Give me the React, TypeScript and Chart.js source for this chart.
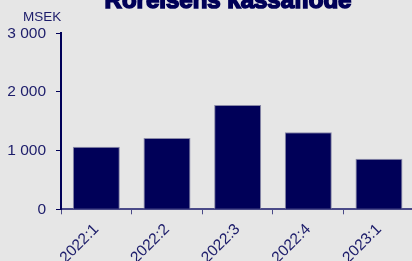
import React, { useEffect, useRef } from "react";
import { Chart, registerables } from "chart.js";

Chart.register(...registerables);

const categories = ["2022:1", "2022:2", "2022:3", "2022:4", "2023:1"];
const cashFlow = [1065, 1215, 1778, 1312, 862];
const yTicks = [0, 1000, 2000, 3000];
const titleText = "Rörelsens kassaflöde";
const unitText = "MSEK";

const NAVY = "#000058";
const TEXT = "#1c1c6a";
const BG = "#e6e6e6";

const fmt = (v: number) =>
  String(v).replace(/\B(?=(\d{3})+(?!\d))/g, " ");

export default function App() {
  const ref = useRef<HTMLCanvasElement | null>(null);
  useEffect(() => {
    if (!ref.current) return;
    const overlay = {
      id: "overlay",
      afterDraw(chart: any) {
        const ctx = chart.ctx;
        ctx.save();
        ctx.fillStyle = NAVY;
        ctx.font = 'bold 24px "Liberation Sans", Arial, sans-serif';
        ctx.textAlign = "center";
        ctx.textBaseline = "alphabetic";
        ctx.strokeStyle = NAVY;
        ctx.lineWidth = 1.6;
        ctx.strokeText(titleText, 228, 8);
        ctx.fillText(titleText, 228, 8);
        ctx.fillStyle = TEXT;
        ctx.font = '13.5px "Liberation Sans", Arial, sans-serif';
        ctx.textAlign = "left";
        ctx.textBaseline = "middle";
        ctx.fillText(unitText, 23, 17);
        ctx.restore();
      },
    };
    const chart = new Chart(ref.current, {
      type: "bar",
      data: {
        labels: categories,
        datasets: [
          {
            data: cashFlow,
            backgroundColor: NAVY,
            borderColor: "#8a8aa8",
            borderWidth: 1,
            barPercentage: 0.665,
            categoryPercentage: 1,
          },
        ],
      },
      options: {
        animation: false,
        responsive: false,
        devicePixelRatio: 1,
        layout: { padding: { top: 33.3, right: 15.7, left: 0, bottom: 0 } },
        plugins: {
          legend: { display: false },
          tooltip: { enabled: false },
          title: { display: false },
        },
        scales: {
          x: {
            offset: true,
            grid: {
              offset: true,
              drawOnChartArea: false,
              drawTicks: true,
              tickLength: 5,
              color: "#4a4a88",
              lineWidth: 1,
            },
            border: { display: true, color: "#4a4a88", width: 2 },
            ticks: {
              color: TEXT,
              font: { family: '"Liberation Sans", Arial, sans-serif', size: 15.5 },
              maxRotation: 45,
              minRotation: 45,
              padding: 6,
              autoSkip: false,
            },
            afterFit(scale: any) {
              scale.height = 51.7;
            },
          },
          y: {
            min: 0,
            max: 3000,
            afterBuildTicks(scale: any) {
              scale.ticks = yTicks.map((v) => ({ value: v }));
            },
            grid: {
              drawOnChartArea: false,
              drawTicks: true,
              tickLength: 5,
              color: NAVY,
              lineWidth: 1,
            },
            border: { display: true, color: NAVY, width: 2 },
            ticks: {
              color: TEXT,
              font: { family: '"Liberation Sans", Arial, sans-serif', size: 15.5 },
              padding: 10,
              callback: (v: any) => fmt(Number(v)),
            },
            afterFit(scale: any) {
              scale.width = 61;
            },
          },
        },
      },
      plugins: [overlay],
    });
    return () => chart.destroy();
  }, []);
  return (
    <div
      style={{
        position: "fixed",
        left: 0,
        top: 0,
        width: 412,
        height: 261,
        overflow: "hidden",
        background: BG,
      }}
    >
      <canvas ref={ref} width={430} height={261} style={{ display: "block" }} />
    </div>
  );
}
